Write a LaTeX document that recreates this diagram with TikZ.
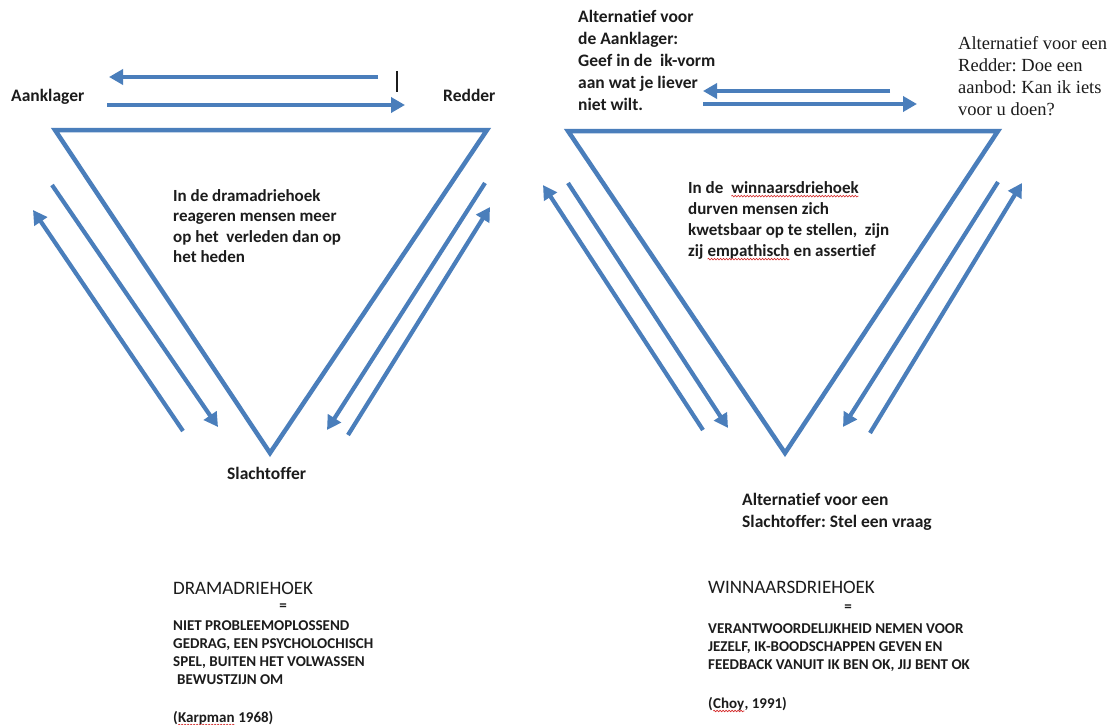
\documentclass[tikz,border=0pt]{standalone}
\usepackage{fontspec}
\setmainfont{Carlito}[Ligatures=NoCommon]
\newfontfamily\serifface{Liberation Serif}
\usetikzlibrary{arrows.meta,decorations.pathmorphing}
\frenchspacing

\definecolor{tri}{RGB}{74,126,187}
\definecolor{ink}{RGB}{28,28,28}
\definecolor{spell}{RGB}{214,42,42}

% word with a red wavy underline
\newcommand\typo[1]{\tikz[baseline=(w.base)]{\node[inner sep=0pt,outer sep=0pt,anchor=base](w){#1};\draw[spell,line width=0.6pt,decorate,decoration={snake,amplitude=0.8pt,segment length=3pt}]([yshift=-3pt]w.base west)--([yshift=-3pt]w.base east);}}

\begin{document}
\begin{tikzpicture}[x=1pt,y=-1pt,
  side/.style={draw=tri,line width=4.5pt,line join=miter},
  flow/.style={draw=tri,line width=4.2pt,-{Triangle[length=14pt,width=15pt]}},
  lbl/.style={text=ink,inner sep=0pt,align=left,font=\bfseries\fontsize{17.5}{22}\selectfont},
  body/.style={text=ink,inner sep=0pt,align=left,font=\bfseries\fontsize{17}{20.5}\selectfont},
  serifnote/.style={text=ink,inner sep=0pt,align=left,font=\serifface\fontsize{18.5}{22}\selectfont},
  heading/.style={text=ink,inner sep=0pt,font=\fontsize{19}{22}\selectfont},
  capsnote/.style={text=ink,inner sep=0pt,align=left,font=\bfseries\fontsize{15}{18.3}\selectfont},
]
\useasboundingbox[fill=white] (0,0) rectangle (1114,725);

% ---------- drama triangle ----------
\coordinate (dA) at (55,130);
\coordinate (dR) at (487,130);
\coordinate (dS) at (270,453);
\draw[side] (dA) -- (dR) -- (dS) -- cycle;

\coordinate (dt1s) at (378,77);  \coordinate (dt1e) at (109,77);
\coordinate (dt2s) at (107,105); \coordinate (dt2e) at (405,105);
\draw[flow] (dt1s) -- (dt1e);
\draw[flow] (dt2s) -- (dt2e);
\draw[ink,line width=2.2pt] (397,71) -- (397,92);

\coordinate (dl1s) at (183,431); \coordinate (dl1e) at (33,210);
\coordinate (dl2s) at (52,185);  \coordinate (dl2e) at (218,427);
\draw[flow] (dl1s) -- (dl1e);
\draw[flow] (dl2s) -- (dl2e);

\coordinate (dr1s) at (485,183); \coordinate (dr1e) at (327,430);
\coordinate (dr2s) at (348,435); \coordinate (dr2e) at (490,207);
\draw[flow] (dr1s) -- (dr1e);
\draw[flow] (dr2s) -- (dr2e);

\node[lbl,anchor=mid west] (aanklager) at (11,99) {Aanklager};
\node[lbl,anchor=mid west] (redder) at (443,99) {Redder};
\node[lbl,anchor=mid west] (slachtoffer) at (227,477) {Slachtoffer};

\node[body,anchor=north west] (dramatext) at (173,189)
  {In de dramadriehoek\\reageren mensen meer\\op het \ verleden dan op\\het heden};

% ---------- winners triangle ----------
\coordinate (wA) at (568,131);
\coordinate (wR) at (998,131);
\coordinate (wS) at (785,453);
\draw[side] (wA) -- (wR) -- (wS) -- cycle;

\coordinate (wt1s) at (890,91);  \coordinate (wt1e) at (703,91);
\coordinate (wt2s) at (703,104); \coordinate (wt2e) at (917,104);
\draw[flow] (wt1s) -- (wt1e);
\draw[flow] (wt2s) -- (wt2e);

\coordinate (wl1s) at (703,430); \coordinate (wl1e) at (543,185);
\coordinate (wl2s) at (568,183); \coordinate (wl2e) at (728,428);
\draw[flow] (wl1s) -- (wl1e);
\draw[flow] (wl2s) -- (wl2e);

\coordinate (wr1s) at (998,182); \coordinate (wr1e) at (843,427);
\coordinate (wr2s) at (870,433); \coordinate (wr2e) at (1022,183);
\draw[flow] (wr1s) -- (wr1e);
\draw[flow] (wr2s) -- (wr2e);

\node[lbl,anchor=north west] (altaanklager) at (578,10)
  {Alternatief voor\\de Aanklager:\\Geef in de \ ik-vorm\\aan wat je liever\\niet wilt.};
\node[serifnote,anchor=north west] (altredder) at (958,36)
  {Alternatief voor een\\Redder: Doe een\\aanbod: Kan ik iets\\voor u doen?};
\node[lbl,anchor=north west] (altslachtoffer) at (742,493)
  {Alternatief voor een\\Slachtoffer: Stel een vraag};

\node[body,anchor=north west,font=\bfseries\fontsize{17}{21}\selectfont] (wintext) at (688,181)
  {In de \ \typo{winnaarsdriehoek}\\durven mensen zich\\kwetsbaar op te stellen, \ zijn\\zij \typo{empathisch} en assertief};

% ---------- definitions below ----------
\node[heading,anchor=base west] (dramatitle) at (173,594) {DRAMADRIEHOEK};
\node[capsnote,anchor=center] (dramaeq) at (283,607) {=};
\node[capsnote,anchor=north west] (dramadef) at (173,620)
  {NIET PROBLEEMOPLOSSEND\\GEDRAG, EEN PSYCHOLOCHISCH\\SPEL, BUITEN HET VOLWASSEN\\\hspace*{4pt}BEWUSTZIJN OM};
\node[capsnote,anchor=base west] (dramaref) at (173,722) {(\typo{Karpman} 1968)};

\node[heading,anchor=base west] (wintitle) at (708,593) {WINNAARSDRIEHOEK};
\node[capsnote,anchor=center] (wineq) at (848,608) {=};
\node[capsnote,anchor=north west] (windef) at (708,623)
  {VERANTWOORDELIJKHEID NEMEN VOOR\\JEZELF, IK-BOODSCHAPPEN GEVEN EN\\FEEDBACK VANUIT IK BEN OK, JIJ BENT OK};
\node[capsnote,anchor=base west] (winref) at (708,708) {(\typo{Choy}, 1991)};
\end{tikzpicture}
\end{document}
